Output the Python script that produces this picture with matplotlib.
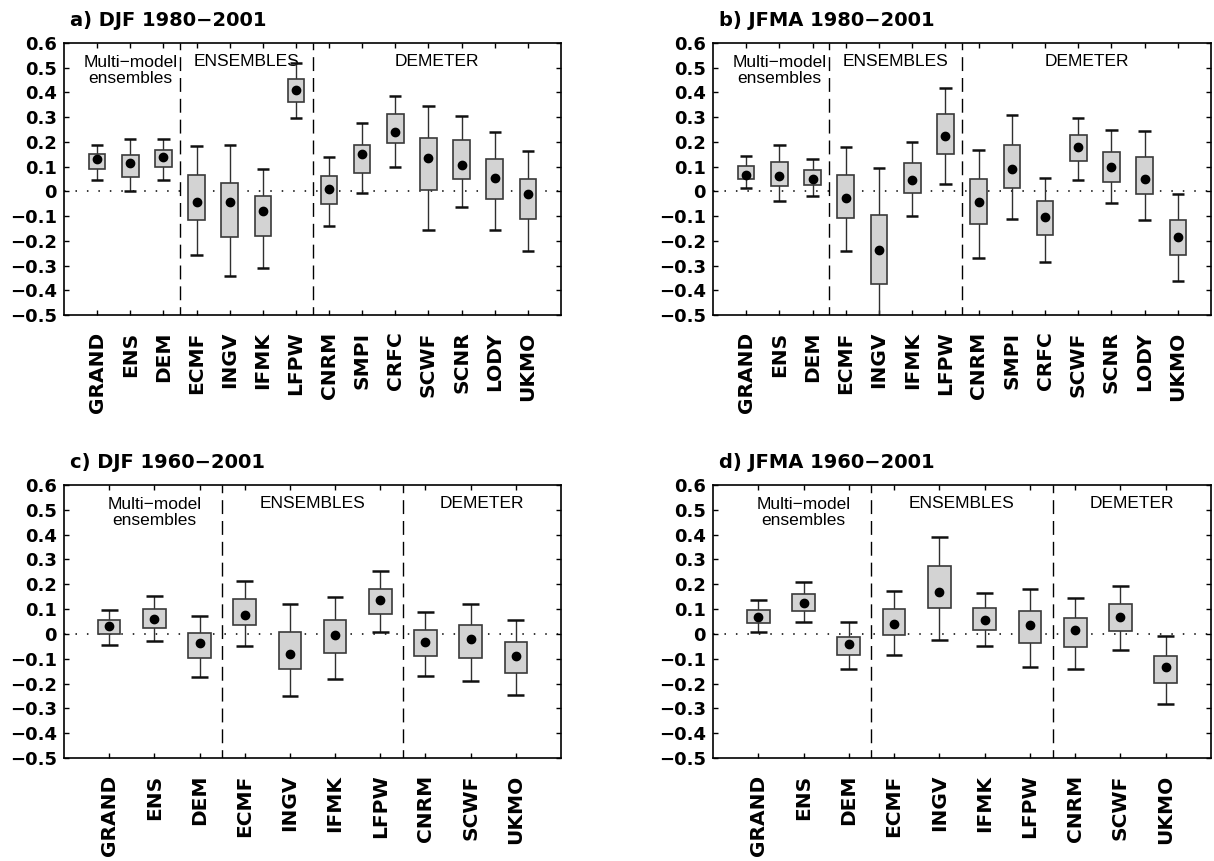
import matplotlib
matplotlib.use("Agg")
import matplotlib.pyplot as plt
import numpy as np

plt.rcParams['font.family'] = ['Liberation Sans', 'DejaVu Sans']

# ---------------- data ----------------
labels_long = ["GRAND", "ENS", "DEM", "ECMF", "INGV", "IFMK", "LFPW",
               "CNRM", "SMPI", "CRFC", "SCWF", "SCNR", "LODY", "UKMO"]
labels_short = ["GRAND", "ENS", "DEM", "ECMF", "INGV", "IFMK", "LFPW",
                "CNRM", "SCWF", "UKMO"]

# panel a) DJF 1980-2001
a_wlo = [0.045, 0.001, 0.045, -0.257, -0.343, -0.308, 0.296, -0.139, -0.006, 0.099, -0.155, -0.065, -0.156, -0.240]
a_q1 = [0.091, 0.059, 0.099, -0.115, -0.186, -0.182, 0.362, -0.051, 0.074, 0.196, 0.005, 0.051, -0.031, -0.113]
a_med = [0.132, 0.115, 0.140, -0.041, -0.042, -0.081, 0.409, 0.010, 0.153, 0.242, 0.134, 0.105, 0.055, -0.012]
a_q3 = [0.150, 0.148, 0.167, 0.068, 0.035, -0.020, 0.453, 0.062, 0.187, 0.313, 0.214, 0.207, 0.130, 0.050]
a_whi = [0.189, 0.210, 0.210, 0.185, 0.188, 0.090, 0.520, 0.138, 0.276, 0.386, 0.347, 0.306, 0.239, 0.162]

# panel b) JFMA 1980-2001
b_wlo = [0.012, -0.040, -0.018, -0.241, -0.560, -0.100, 0.031, -0.268, -0.113, -0.287, 0.045, -0.046, -0.117, -0.361]
b_q1 = [0.048, 0.023, 0.024, -0.109, -0.375, -0.006, 0.153, -0.131, 0.013, -0.177, 0.121, 0.038, -0.010, -0.259]
b_med = [0.067, 0.063, 0.048, -0.026, -0.238, 0.044, 0.222, -0.044, 0.089, -0.104, 0.179, 0.097, 0.048, -0.185]
b_q3 = [0.102, 0.117, 0.087, 0.068, -0.094, 0.116, 0.311, 0.049, 0.186, -0.038, 0.227, 0.161, 0.140, -0.116]
b_whi = [0.142, 0.186, 0.130, 0.180, 0.093, 0.199, 0.420, 0.168, 0.308, 0.055, 0.298, 0.250, 0.244, -0.010]

# panel c) DJF 1960-2001
c_wlo = [-0.044, -0.027, -0.173, -0.047, -0.252, -0.181, 0.007, -0.170, -0.189, -0.248]
c_q1 = [-0.001, 0.024, -0.098, 0.036, -0.141, -0.077, 0.079, -0.091, -0.098, -0.157]
c_med = [0.031, 0.062, -0.038, 0.075, -0.079, -0.005, 0.136, -0.032, -0.020, -0.087]
c_q3 = [0.058, 0.099, 0.004, 0.141, 0.009, 0.058, 0.179, 0.017, 0.034, -0.032]
c_whi = [0.097, 0.154, 0.072, 0.212, 0.121, 0.150, 0.252, 0.090, 0.121, 0.055]

# panel d) JFMA 1960-2001
d_wlo = [0.007, 0.047, -0.140, -0.086, -0.023, -0.047, -0.132, -0.140, -0.066, -0.281]
d_q1 = [0.043, 0.093, -0.085, -0.003, 0.105, 0.016, -0.036, -0.051, 0.013, -0.197]
d_med = [0.068, 0.123, -0.040, 0.038, 0.168, 0.055, 0.036, 0.015, 0.068, -0.134]
d_q3 = [0.095, 0.161, -0.011, 0.099, 0.272, 0.106, 0.093, 0.066, 0.119, -0.087]
d_whi = [0.136, 0.208, 0.046, 0.172, 0.389, 0.166, 0.181, 0.146, 0.193, -0.009]

titles = ["a) DJF 1980\u22122001", "b) JFMA 1980\u22122001",
          "c) DJF 1960\u22122001", "d) JFMA 1960\u22122001"]
group_names = ["Multi\u2212model\nensembles", "ENSEMBLES", "DEMETER"]
yticks = [0.6, 0.5, 0.4, 0.3, 0.2, 0.1, 0, -0.1, -0.2, -0.3, -0.4, -0.5]

panels = [
    (labels_long, a_wlo, a_q1, a_med, a_q3, a_whi),
    (labels_long, b_wlo, b_q1, b_med, b_q3, b_whi),
    (labels_short, c_wlo, c_q1, c_med, c_q3, c_whi),
    (labels_short, d_wlo, d_q1, d_med, d_q3, d_whi),
]

W, H = 1214, 861
fig = plt.figure(figsize=(W / 100, H / 100), dpi=100)

# axes boxes in pixels: (left, top, right, bottom)
boxes = [(64, 43, 561, 315), (713, 43, 1211, 315),
         (64, 485, 561, 758), (713, 485, 1211, 758)]

BOLD = ['DejaVu Sans']


def fmt(v):
    if abs(v) < 1e-9:
        return "0"
    s = f"{v:.1f}"
    return s.replace("-", "\u2212")


for (labs, wlo, q1, med, q3, whi), (l, t, r, b), title in zip(panels, boxes, titles):
    ax = fig.add_axes([l / W, 1 - b / H, (r - l) / W, (b - t) / H])
    n = len(labs)
    x = np.arange(1, n + 1)
    bw = 0.5
    cw = 0.37
    for xi, lo, a1, m, a3, hi in zip(x, wlo, q1, med, q3, whi):
        ax.plot([xi, xi], [lo, hi], color="#303030", lw=1.0, zorder=2, solid_capstyle="butt")
        ax.plot([xi - cw / 2, xi + cw / 2], [hi, hi], color="#101010", lw=1.8, zorder=2, solid_capstyle="butt")
        ax.plot([xi - cw / 2, xi + cw / 2], [lo, lo], color="#101010", lw=1.8, zorder=2, solid_capstyle="butt")
        ax.add_patch(plt.Rectangle((xi - bw / 2, a1), bw, a3 - a1, facecolor="#d3d3d3",
                                   edgecolor="#3a3a3a", lw=1.2, zorder=3))
    ax.plot(x, med, "o", color="black", ms=6, zorder=4)

    ax.axhline(0, color="black", lw=1.1, ls=(0, (1, 6.5)), zorder=1)
    for dx in (3.5, 7.5):
        ax.axvline(dx, color="black", lw=1.0, ls=(4, (10, 5)), zorder=1)

    ax.set_xlim(0, n + 1)
    ax.set_ylim(-0.5, 0.6)
    ax.set_yticks(yticks)
    ax.set_yticklabels([fmt(v) for v in yticks], fontsize=13, fontweight="bold", family=BOLD)
    ax.set_xticks(x)
    ax.set_xticklabels(labs, rotation=90, fontsize=14.5, fontweight="bold", family=BOLD)
    ax.tick_params(direction="in", length=3.5, width=1, top=True, right=True)
    ax.tick_params(axis="x", pad=12)
    ax.tick_params(axis="y", pad=5)
    for sp in ax.spines.values():
        sp.set_linewidth(1.2)

    ax.text(2, 0.488, group_names[0], ha="center", va="center", fontsize=12.5, linespacing=1.1, zorder=0)
    ax.text(5.5, 0.526, group_names[1], ha="center", va="center", fontsize=12.5, zorder=0)
    ax.text((7.5 + n + 1) / 2, 0.526, group_names[2], ha="center", va="center", fontsize=12.5, zorder=0)

    fig.text((l + 6) / W, 1 - (t - 22) / H, title, ha="left", va="center",
             fontsize=14, fontweight="bold", family=BOLD)

fig.savefig("out.png", dpi=100)
